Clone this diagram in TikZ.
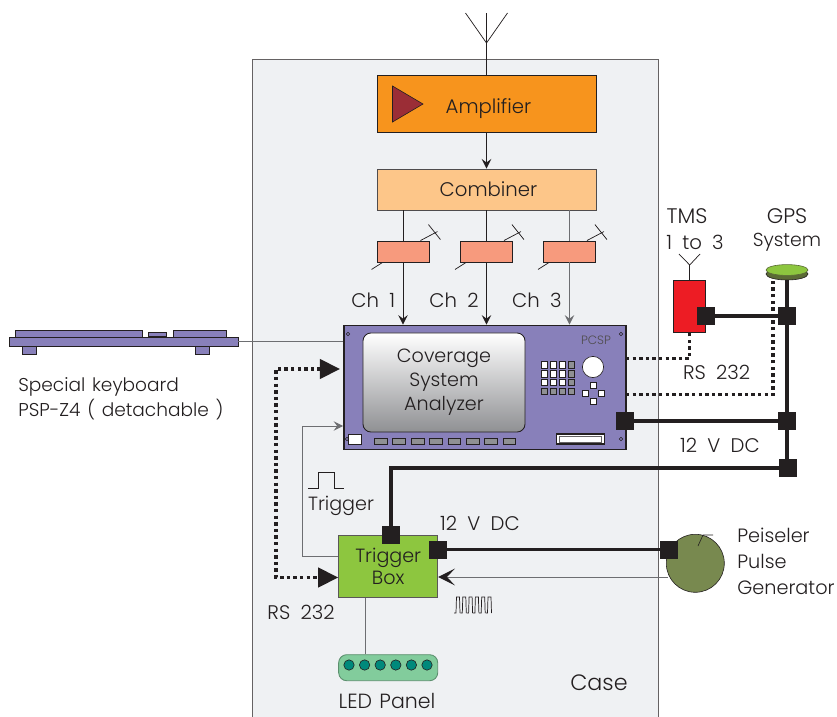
\documentclass[tikz,border=0pt]{standalone}
\usepackage{fontspec}
\setmainfont{Poppins}[UprightFont=* Light]
\usepackage{tikz}
\usetikzlibrary{arrows.meta}
\usetikzlibrary{calc}
\usetikzlibrary{shapes.geometric}
\definecolor{casebg}{HTML}{EFF1F3}
\definecolor{ink}{HTML}{231F20}
\definecolor{wire}{HTML}{6D6E71}
\definecolor{ampfill}{HTML}{F7941D}
\definecolor{ampmark}{HTML}{9B2D36}
\definecolor{combfill}{HTML}{FDC689}
\definecolor{attfill}{HTML}{F79A7D}
\definecolor{purplefill}{HTML}{8880BA}
\definecolor{keygrey}{HTML}{8F9093}
\definecolor{greenfill}{HTML}{8DC63F}
\definecolor{ledbody}{HTML}{82CC9C}
\definecolor{leddot}{HTML}{00897B}
\definecolor{pulsegen}{HTML}{78894F}
\definecolor{gpsrimfill}{HTML}{5B6B35}
\definecolor{tmsfill}{HTML}{ED1C24}
\newcommand{\lblfont}[2]{\fontsize{#1}{#2}\selectfont\spaceskip=0.52em\relax}
\newcommand{\tightfont}[2]{\fontsize{#1}{#2}\selectfont\spaceskip=0.36em\relax}
\tikzset{
	box/.style={draw=ink,line width=0.022cm,inner sep=0pt},
	conn/.style={fill=ink,minimum size=0.45cm,inner sep=0pt},
	thinline/.style={wire,line width=0.025cm},
	darkline/.style={ink,line width=0.025cm},
	power/.style={ink,line width=0.085cm},
	serial/.style={ink,line width=0.085cm,dash pattern=on 0.085cm off 0.08cm},
	smallkey/.style={draw=ink,line width=0.015cm,minimum size=0.16cm,inner sep=0pt},
}
\begin{document}
\begin{tikzpicture}[x=0.025cm,y=-0.025cm,>/.tip={Stealth[length=0.24cm,width=0.24cm,inset=0.09cm]},text=ink,font=\lblfont{14}{17}]
	\useasboundingbox (0,0) rectangle (837,717);
	% case and front end
	\draw (455.5,390) node (case) [draw=ink!70,fill=casebg,line width=0.025cm,minimum width=10.15cm,minimum height=16.5cm] {};
	\draw (486.5,103.5) node (amp) [box,fill=ampfill,minimum width=5.475cm,minimum height=1.425cm] {\hspace{0.1cm}\raisebox{-0.24cm}[0pt][0pt]{Amplifier}};
	\fill[ampmark,draw=ink,line width=0.015cm] (392.5,86) -- (392.5,122) -- (423,104) -- cycle;
	\draw (486.5,189.5) node (comb) [box,fill=combfill,draw=ink!80,minimum width=5.475cm,minimum height=1.025cm] {\hspace{0.1cm}Combiner};
	\draw (403,251.5) node (att1) [box,fill=attfill,minimum width=1.3cm,minimum height=0.525cm] {};
	\draw (486.5,251.5) node (att2) [box,fill=attfill,minimum width=1.3cm,minimum height=0.525cm] {};
	\draw (569.5,251.5) node (att3) [box,fill=attfill,minimum width=1.3cm,minimum height=0.525cm] {};
	\foreach \n in {att1,att2,att3} {
		\draw[darkline,line width=0.018cm] ($(\n.north east)+(-9,0)$) -- ++(17,-9);
		\draw[darkline,line width=0.018cm] ($(\n.north east)+(-1,-16)$) -- ++(12,15);
		\draw[darkline,line width=0.018cm] ($(\n.south west)+(6,0)$) -- ++(-11,7);
	}
	\draw[darkline] (comb.south -| att1) -- (att1);
	\draw[darkline] (comb.south -| att2) -- (att2);
	\draw[thinline] (comb.south -| att3) -- (att3);
	% antenna
	\coordinate (antfoot) at (486.5,43);
	\coordinate (antl) at (465.5,13);
	\coordinate (antr) at (507.5,13);
	\coordinate (anttop) at (486.5,13);
	\draw[ink,line width=0.018cm] (antl) -- (antfoot) -- (antr);
	\draw[ink,line width=0.018cm] (anttop) -- (antfoot);
	\draw[darkline] (antfoot) -- (amp);
	\draw[->,darkline] (amp) -- (comb);
	% analyzer
	\draw (485,387.5) node (csa) [box,fill=purplefill,minimum width=7.05cm,minimum height=3.1cm,line width=0.04cm] {};
	\draw (444,382.5) node (screen) [box,rounded corners=0.2cm,top color=white,bottom color=keygrey,minimum width=4.05cm,minimum height=2.475cm,align=center,font=\lblfont{13.6}{17}] {Coverage\\System\\Analyzer};
	\draw (596,340) node (pcsp) [font=\lblfont{8.6}{9},text=ink!80] {PCSP};
	\draw (354.5,439) node (power) [box,fill=white,line width=0.015cm,minimum width=0.33cm,minimum height=0.26cm] {};
	\draw (580.5,439) node (slot) [box,fill=white,line width=0.03cm,minimum width=1.18cm,minimum height=0.25cm] {};
	\draw (slot) node (slotin) [box,fill=white,draw=ink!70,line width=0.012cm,minimum width=1.04cm,minimum height=0.16cm] {};
	\foreach \x/\y in {348/334,621/334,621/439,347/439}
		\draw[ink,line width=0.015cm] (\x,\y) circle (1.8);
	\foreach \i in {0,...,7}
		\draw (380.8+\i*18.35,441.5) node (btn\i) [box,fill=keygrey,line width=0.015cm,minimum width=0.32cm,minimum height=0.16cm] {};
	\foreach \c in {0,...,3}
		\foreach \r in {0,...,3} {
			\pgfmathsetmacro{\kcol}{(\c==3||\r==3)?"keygrey":"white"}
			\draw (544+\c*9,364.7+\r*8.9) node (key\c\r) [smallkey,fill=\kcol] {};
		}
	\draw (593,367) node (dial) [draw=ink,fill=white,line width=0.015cm,circle,minimum size=0.53cm,inner sep=0pt] {};
	\foreach \n/\x/\y in {padn/593.3/385,padw/585.3/393,pade/601/393,pads/593.3/401}
		\draw (\x,\y) node (\n) [smallkey,fill=white] {};
	\draw (403,300) node (ch1) [left,inner sep=0pt,xshift=-0.19cm] {Ch 1};
	\draw (486.5,300) node (ch2) [left,inner sep=0pt,xshift=-0.19cm] {Ch 2};
	\draw (569.5,300) node (ch3) [left,inner sep=0pt,xshift=-0.19cm] {Ch 3};
	\draw[->,darkline] (att1) -- (csa.north -| att1);
	\draw[->,darkline] (att2) -- (csa.north -| att2);
	\draw[->,thinline] (att3) -- (csa.north -| att3);
	% keyboard
	\draw (29,350) node (footl) [box,fill=purplefill,minimum width=0.35cm,minimum height=0.2cm] {};
	\draw (202,350) node (footr) [box,fill=purplefill,minimum width=0.35cm,minimum height=0.2cm] {};
	\draw (78.5,334) node (keysl) [box,fill=purplefill,minimum width=3.175cm,minimum height=0.16cm] {};
	\draw (157,334.5) node (keysm) [box,fill=purplefill,minimum width=0.45cm,minimum height=0.12cm] {};
	\draw (199.5,334) node (keysr) [box,fill=purplefill,minimum width=1.325cm,minimum height=0.16cm] {};
	\draw (123.5,341.5) node (keybase) [box,fill=purplefill,minimum width=5.725cm,minimum height=0.225cm] {};
	\draw[thinline] (keybase.east) -- (csa.west |- keybase.east);
	\draw (18,398.5) node (keytext) [right,inner sep=0pt,align=left,font=\tightfont{13.2}{17.6}] {Special keyboard\\PSP-Z4 ( detachable )};
	% tms and gps
	\draw (689.7,306.5) node (tms) [box,fill=tmsfill,draw=ink,minimum width=0.79cm,minimum height=1.32cm] {};
	\coordinate (tmsant) at (689.7,265);
	\coordinate (tmsl) at (679,254);
	\coordinate (tmsr) at (700,254);
	\draw[ink,line width=0.018cm] (tmsl) -- (tmsant) -- (tmsr);
	\draw[ink,line width=0.018cm] (tmsant) -- (tms);
	\draw (687,216) node (tmstext) [font=\lblfont{15}{17}] {TMS};
	\draw (695,242) node (tmsnum) {1 to 3};
	\draw (787,216) node (gpstext) [font=\lblfont{15}{17}] {GPS};
	\draw (787,242) node (systext) [font=\lblfont{13.4}{17}] {System};
	\draw (787,274) node (gpsrim) [ellipse,fill=gpsrimfill,draw=ink,line width=0.015cm,minimum width=1.05cm,minimum height=0.3cm,inner sep=0pt] {};
	\draw (787,270) node (gpstop) [ellipse,fill=greenfill,draw=gpsrimfill,line width=0.015cm,minimum width=1.05cm,minimum height=0.27cm,inner sep=0pt] {};
	\draw (706,316) node (ctms) [conn] {};
	\draw (787,316) node (cgps) [conn] {};
	\draw (625,421) node (ccsa) [conn] {};
	\draw (787,421) node (cjoin) [conn] {};
	\draw (788,468) node (cout) [conn] {};
	\coordinate (rsa) at (626,358.5);
	\coordinate (rsb) at (626,394.7);
	\coordinate (gpsdot) at (773,279);
	\draw[serial] (rsa) -| (tms.south);
	\draw[serial] (rsb) -| (gpsdot);
	\draw (716.7,372) node (rstop) {RS 232};
	\draw (720,445.5) node (dctop) {12 V DC};
	\draw[power] (gpsrim) -- (cgps);
	\draw[power] (cgps) -- (cjoin);
	\draw[power] (cjoin) -- (cout.north -| cjoin);
	\draw[power] (ctms) -- (cgps);
	\draw[power] (ccsa) -- (cjoin);
	% trigger box
	\draw (388.2,566.3) node (tbox) [box,fill=greenfill,draw=ink!75,minimum width=2.475cm,minimum height=1.55cm,align=center,font=\lblfont{13.6}{15.8}] {Trigger\\Box};
	\draw (391,535) node (ctop) [conn] {};
	\draw (438,549.7) node (cright) [conn] {};
	\draw (695.3,563.3) node (peis) [circle,fill=pulsegen,draw=ink,line width=0.015cm,minimum size=1.45cm,inner sep=0pt] {};
	\draw (669,549.7) node (cpeis) [conn] {};
	\draw[power] (cout) -| (ctop);
	\draw[power] (cright) -- (cpeis);
	\coordinate (needle) at (703,535);
	\coordinate (needlebase) at (698,546);
	\coordinate (needleend) at (713,535);
	\draw[ink,line width=0.015cm] (needlebase) -- (needle) -- (needleend);
	\draw (737,561) node (peistext) [right,inner sep=0pt,align=left,font=\lblfont{13.7}{18.5}] {Peiseler\\Pulse\\Generator};
	\coordinate (pulsein) at (668,577);
	\draw[{Stealth[length=0.42cm,width=0.42cm,inset=0.2cm,ink]}-,thinline] (tbox.east |- pulsein) -- (pulsein);
	\draw (480,523) node (dcbot) {12 V DC};
	\draw (301,612.5) node (rsbot) {RS 232};
	\draw (341,506) node (trigtext) [font=\lblfont{13.6}{17}] {Trigger};
	\draw[ink,line width=0.018cm] (308,488) -- (318,488) -- (318,472) -- (334,472) -- (334,488) -- (344,488);
	\foreach \i in {0,...,5}
		\draw[ink,line width=0.018cm] (454+\i*6.3,613) -- ++(2,0) -- ++(0.5,-16) -- ++(3,0) -- ++(0.5,16);
	% trigger and serial to analyzer
	\coordinate (trigleft) at (302.7,556);
	\coordinate (trigtop) at (302.7,426);
	\draw[->,thinline] (tbox.west |- trigleft) -- (trigleft) -- (trigtop) -- (csa.west |- trigtop);
	\coordinate (dotlow) at (276,577.5);
	\coordinate (dothigh) at (276,369);
	\coordinate (dotend) at (340,369);
	\draw[{Triangle[length=0.5cm,width=0.48cm]}-{Triangle[length=0.5cm,width=0.48cm]},serial] (dotend) -- (dothigh) -- (dotlow) -- (tbox.west |- dotlow);
	% led panel
	\draw (388.2,667.7) node (led) [box,fill=ledbody,draw=ledbody!70!black,rounded corners=0.2cm,minimum width=2.475cm,minimum height=0.65cm] {};
	\foreach \i in {0,...,5}
		\draw (349+\i*15.6,665) node (dot\i) [circle,fill=leddot,draw=ink,line width=0.015cm,minimum size=0.26cm,inner sep=0pt] {};
	\coordinate (ledwire) at (365,620);
	\draw[thinline] (led.north -| ledwire) -- (tbox.south -| ledwire);
	\draw (387,701) node (ledtext) [font=\tightfont{14.6}{17}] {LED Panel};
	\draw (599,683) node (casetext) [font=\lblfont{15.8}{17}] {Case};
\end{tikzpicture}
\end{document}
